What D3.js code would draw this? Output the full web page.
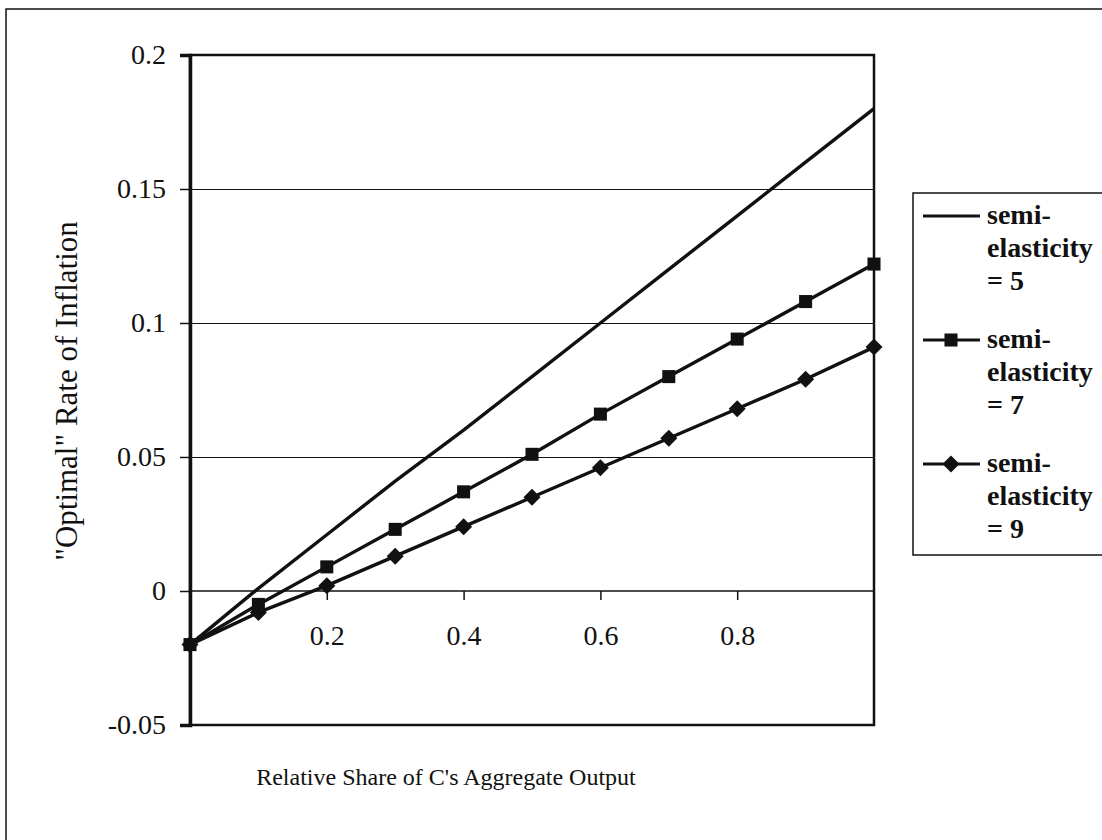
<!DOCTYPE html>
<html>
<head>
<meta charset="utf-8">
<script src="https://cdn.jsdelivr.net/npm/d3@7"></script>
<style>
  html, body { margin: 0; padding: 0; background: #fff; }
  svg text { font-family: "Liberation Serif", "Times New Roman", serif; fill: #111; }
</style>
</head>
<body>
<svg id="chart" width="1102" height="840"></svg>
<script>
// ---- data ----
const xValues = [0, 0.1, 0.2, 0.3, 0.4, 0.5, 0.6, 0.7, 0.8, 0.9, 1.0];
const semi5 = [-0.020, 0.001, 0.021, 0.041, 0.060, 0.080, 0.100, 0.120, 0.140, 0.160, 0.180];
const semi7 = [-0.020, -0.005, 0.009, 0.023, 0.037, 0.051, 0.066, 0.080, 0.094, 0.108, 0.122];
const semi9 = [-0.020, -0.008, 0.002, 0.013, 0.024, 0.035, 0.046, 0.057, 0.068, 0.079, 0.091];
const seriesNames = [["semi-", "elasticity", "= 5"], ["semi-", "elasticity", "= 7"], ["semi-", "elasticity", "= 9"]];
const seriesMarkers = ["none", "square", "diamond"];
const xTickValues = [0.2, 0.4, 0.6, 0.8];
const yTickValues = [-0.05, 0, 0.05, 0.1, 0.15, 0.2];
const yTickLabels = ["-0.05", "0", "0.05", "0.1", "0.15", "0.2"];
const gridValues = [0.05, 0.1, 0.15];
const xTitle = "Relative Share of C's Aggregate Output";
const yTitle = "\"Optimal\" Rate of Inflation";

const seriesData = [semi5, semi7, semi9];

// ---- layout ----
const svg = d3.select("#chart");
const plot = { left: 190, right: 874, top: 55, bottom: 725 };
const x = d3.scaleLinear().domain([0, 1]).range([plot.left, plot.right]);
const y = d3.scaleLinear().domain([-0.05, 0.2]).range([plot.bottom, plot.top]);

// outer chart border
svg.append("rect")
  .attr("x", 6).attr("y", 9).attr("width", 1120).attr("height", 860)
  .attr("fill", "none").attr("stroke", "#111").attr("stroke-width", 1.5);

// gridlines
svg.append("g").selectAll("line")
  .data(gridValues)
  .join("line")
  .attr("x1", plot.left).attr("x2", plot.right)
  .attr("y1", d => Math.round(y(d)) + 0.5).attr("y2", d => Math.round(y(d)) + 0.5)
  .attr("stroke", "#111").attr("stroke-width", 1);

// plot area border
svg.append("rect")
  .attr("x", plot.left).attr("y", plot.top)
  .attr("width", plot.right - plot.left).attr("height", plot.bottom - plot.top)
  .attr("fill", "none").attr("stroke", "#111").attr("stroke-width", 2.5);

// y axis
const yAxis = d3.axisLeft(y).tickValues(yTickValues)
  .tickFormat((d, i) => yTickLabels[i]).tickSize(10).tickPadding(14);
const gy = svg.append("g").attr("transform", `translate(${plot.left},0)`).call(yAxis);
gy.select(".domain").attr("stroke", "#111").attr("stroke-width", 3.5);
gy.selectAll(".tick line").attr("stroke", "#111").attr("stroke-width", 1.5);
gy.selectAll(".tick text").attr("font-size", 28)
  .attr("font-family", "Liberation Serif, Times New Roman, serif").attr("fill", "#111");

// x axis at y = 0
const xAxis = d3.axisBottom(x).tickValues(xTickValues)
  .tickFormat(d3.format(".1f")).tickSize(9).tickPadding(25);
const gx = svg.append("g").attr("transform", `translate(0,${y(0)})`).call(xAxis);
gx.select(".domain").attr("stroke", "#111").attr("stroke-width", 1.6).attr("d", `M${plot.left},0H${plot.right}`);
gx.selectAll(".tick line").attr("stroke", "#111").attr("stroke-width", 1.5);
gx.selectAll(".tick text").attr("font-size", 28)
  .attr("font-family", "Liberation Serif, Times New Roman, serif").attr("fill", "#111");

// lines
const line = d3.line().x((d, i) => x(xValues[i])).y(d => y(d));
seriesData.forEach(s => {
  svg.append("path").datum(s)
    .attr("d", line)
    .attr("fill", "none").attr("stroke", "#111").attr("stroke-width", 3.4)
    .attr("stroke-linejoin", "round");
});

// markers
const symSquare = d3.symbol().type(d3.symbolSquare).size(170);
const diamondPath = (r) => `M0,${-r}L${r},0L0,${r}L${-r},0Z`;
function drawMarker(g, kind, cx, cy) {
  if (kind === "square") {
    g.append("path").attr("d", symSquare()).attr("transform", `translate(${cx},${cy})`).attr("fill", "#111");
  } else if (kind === "diamond") {
    g.append("path").attr("d", diamondPath(8.5)).attr("transform", `translate(${cx},${cy})`).attr("fill", "#111");
  }
}
const gm = svg.append("g");
seriesData.forEach((s, si) => {
  s.forEach((v, i) => drawMarker(gm, seriesMarkers[si], x(xValues[i]), y(v)));
});

// axis titles
svg.append("text")
  .attr("x", 446).attr("y", 785)
  .attr("text-anchor", "middle").attr("font-size", 24)
  .text(xTitle);
svg.append("text")
  .attr("transform", "translate(77,391) rotate(-90)")
  .attr("text-anchor", "middle").attr("font-size", 31)
  .text(yTitle);

// legend
const lg = svg.append("g");
lg.append("rect").attr("x", 913).attr("y", 193).attr("width", 200).attr("height", 362)
  .attr("fill", "#fff").attr("stroke", "#111").attr("stroke-width", 1.5);
seriesNames.forEach((lines, i) => {
  const base = 224 + 124 * i;
  const ly = base - 8;
  lg.append("line").attr("x1", 923).attr("x2", 980).attr("y1", ly).attr("y2", ly)
    .attr("stroke", "#111").attr("stroke-width", 3);
  drawMarker(lg, seriesMarkers[i], 951, ly);
  lines.forEach((t, j) => {
    lg.append("text").attr("x", 987).attr("y", base + 33 * j)
      .attr("font-size", 28).attr("font-weight", "bold").text(t);
  });
});
</script>
</body>
</html>
